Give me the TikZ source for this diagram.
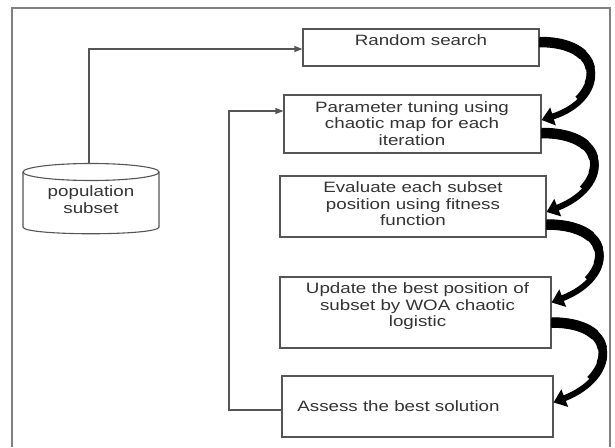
\documentclass[tikz,border=0pt]{standalone}
\usepackage{fontspec}
\setmainfont{Liberation Sans}
\usetikzlibrary{arrows.meta,calc}
\definecolor{txtgray}{HTML}{333333}
\definecolor{linegray}{HTML}{555555}
\definecolor{framegray}{HTML}{808080}
\newcommand{\wtxt}[1]{\scalebox{1.25}[1]{\begin{tabular}{@{}c@{}}#1\end{tabular}}}
\newcommand{\taperarrow}[4]{%
  \foreach \w/\t in {10.5/0.3,9.5/0.45,8.5/0.6,7.5/0.75}{%
    \pgfsetlinewidth{\w pt}%
    \pgfpathcurvebetweentime{0}{\t}{\pgfpointanchor{#1}{center}}{\pgfpointanchor{#2}{center}}{\pgfpointanchor{#3}{center}}{\pgfpointanchor{#4}{center}}%
    \pgfusepath{stroke}}%
  \draw[bigarrow] (#1) .. controls (#2) and (#3) .. (#4);}
\begin{document}
\begin{tikzpicture}[x=1pt,y=-1pt,
  box/.style={draw=linegray,line width=1.1pt,inner sep=0pt},
  txt/.style={text=txtgray,font=\fontsize{15}{16.5}\selectfont,inner sep=0pt},
  thinline/.style={draw=linegray,line width=1.1pt},
  tiparrow/.style={-{Triangle[length=8pt,width=6pt]}},
  bigarrow/.style={draw=black,line width=6pt,-{Triangle[length=12pt,width=18pt]}}]
\useasboundingbox (0,0) rectangle (615,447);
\draw[framegray,line width=1.2pt] (12,447) -- (12,8) -- (610,8) -- (610,447);

\node[box,minimum width=236pt,minimum height=37pt] (rs) at (421,47.5) {};
\node[box,minimum width=257pt,minimum height=58pt] (pt) at (412.5,124) {};
\node[box,minimum width=266pt,minimum height=61pt] (ev) at (413,206.5) {};
\node[box,minimum width=271pt,minimum height=71pt] (up) at (415.5,312.5) {};
\node[box,minimum width=271pt,minimum height=61pt] (as) at (417.5,406.5) {};

\node[txt] (rst) at (421,42) {\wtxt{Random search}};
\node[txt] (ptt) at (412,125.5) {\wtxt{Parameter tuning using\\chaotic map for each\\iteration}};
\node[txt] (evt) at (413,206) {\wtxt{Evaluate each subset\\position using fitness\\function}};
\node[txt] (upt) at (417.5,307) {\wtxt{Update the best position of\\subset by WOA chaotic\\logistic}};
\node[txt] (ast) at (398.5,408) {\wtxt{Assess the best solution}};

% cylinder
\draw[linegray,line width=1.1pt] (91,172) ellipse [x radius=68pt, y radius=8.5pt];
\draw[linegray,line width=1.1pt] (23,172) -- (23,227) .. controls (23,236) and (159,236) .. (159,227) -- (159,172);
\node[txt] (pop) at (91,201.5) {\wtxt{population\\subset}};
\coordinate (poptop) at (89,163.5);

\draw[thinline,tiparrow] (poptop) |- ([yshift=-1.5pt]rs.west);
\coordinate (fbtop) at (229,111);
\draw[thinline,tiparrow] ([yshift=-3.5pt]as.west) -| (fbtop) -- ([yshift=13pt]pt.west);

% thick curved arrows
\coordinate (a1s) at ([yshift=5.5pt]rs.east);
\coordinate (a1e) at ([yshift=4pt]pt.east);
\coordinate (a1p) at ($(a1s)+(70,0)$);
\coordinate (a1q) at ($(a1e)+(64,-20)$);
\taperarrow{a1s}{a1p}{a1q}{a1e}

\coordinate (a2s) at ([yshift=-9pt]pt.east);
\coordinate (a2e) at ([yshift=-5.5pt]ev.east);
\coordinate (a2p) at ($(a2s)+(70,0)$);
\coordinate (a2q) at ($(a2e)+(64,-25)$);
\taperarrow{a2s}{a2p}{a2q}{a2e}

\coordinate (a3s) at ([yshift=-18pt]ev.east);
\coordinate (a3e) at ([yshift=10pt]up.east);
\coordinate (a3p) at ($(a3s)+(70,0)$);
\coordinate (a3q) at ($(a3e)+(64,-25)$);
\taperarrow{a3s}{a3p}{a3q}{a3e}

\coordinate (a4s) at ([yshift=-10pt]up.east);
\coordinate (a4e) at ([yshift=4pt]as.east);
\coordinate (a4p) at ($(a4s)+(70,0)$);
\coordinate (a4q) at ($(a4e)+(64,-25)$);
\taperarrow{a4s}{a4p}{a4q}{a4e}
\end{tikzpicture}
\end{document}
